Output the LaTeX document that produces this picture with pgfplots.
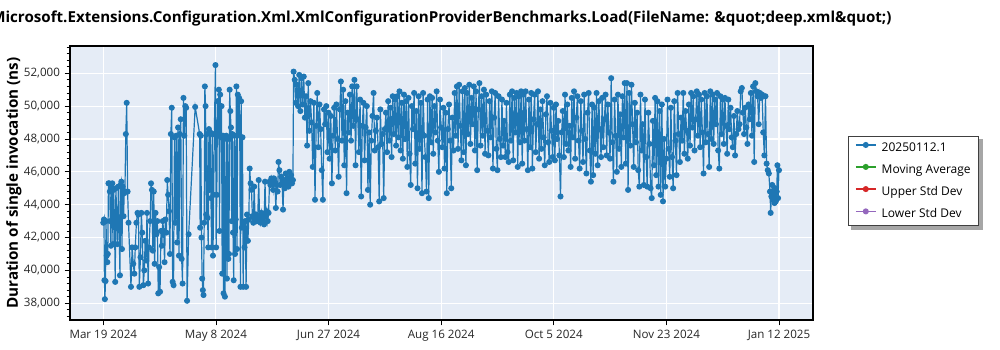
\documentclass[border=0pt]{standalone}
\usepackage{pgfplots}
\pgfplotsset{compat=1.18}
\usepackage{fontspec}
\setmainfont{Open Sans}
\usetikzlibrary{backgrounds}
\definecolor{bgc}{RGB}{229,236,246}
\definecolor{c1}{RGB}{31,119,180}
\definecolor{c2}{RGB}{44,160,44}
\definecolor{c3}{RGB}{214,39,40}
\definecolor{c4}{RGB}{148,103,189}
\begin{document}
\begin{tikzpicture}
\begin{axis}[
  at={(0pt,0pt)}, anchor=south west,
  scale only axis, width=557.25pt, height=205.5pt,
  xmin=-14.78, xmax=315.1, ymin=36980, ymax=53660,
  axis background/.style={fill=bgc},
  axis line style={black, line width=0.8pt},
  xtick={0,50,100,150,200,250,300},
  xticklabels={Mar 19 2024, May 8 2024, Jun 27 2024, Aug 16 2024, Oct 5 2024, Nov 23 2024, Jan 12 2025},
  ytick={38000,40000,42000,44000,46000,48000,50000,52000},
  minor ytick={37200,37600,...,53600},
  tick align=outside, xtick pos=lower, ytick pos=left,
  major tick length=4pt, minor tick length=2.5pt,
  tick style={black, line width=0.6pt},
  grid=major, major grid style={white, line width=0.8pt},
  scaled y ticks=false,
  yticklabel style={/pgf/number format/.cd, fixed, 1000 sep={,}},
  /pgf/number format/assume math mode=true,
  ticklabel style={font=\fontsize{8.7}{10}\selectfont, text=black!85},
  ylabel={Duration of single invocation (ns)},
  ylabel style={font=\bfseries\fontsize{11.4}{13}\selectfont, at={(axis description cs:-0.0754,0.5)}, anchor=center},
  legend cell align=left,
  legend image code/.code={\draw[mark repeat=2, mark phase=2, #1] plot coordinates {(0pt,2.2pt) (7.5pt,2.2pt) (15pt,2.2pt)};},
  legend style={name=leg, at={(axis description cs:1.0471,0.6715)}, anchor=north west,
    draw=black!75, line width=0.8pt, fill=white,
    font=\fontsize{9}{11}\selectfont, row sep=6.4pt, inner xsep=5pt, inner ysep=3.5pt,
    nodes={inner sep=1pt},
    /tikz/every odd column/.append style={column sep=3pt}},
]
\addplot[color=c1, line width=0.9pt, mark=*, mark size=1.8pt, mark options={fill=c1, draw=c1}] coordinates {
(0,42900) (0.3,43100) (0.5,39400) (0.7,38250) (1.0,39350) (1.2,43000) (1.5,40900) (1.8,40500) (2.0,41000) (2.3,45300)
(2.6,45300) (2.9,44800) (3.1,43000) (3.4,41500) (3.7,45000) (4.0,45300) (4.3,41600) (4.6,44900) (5.0,42800) (5.3,39300)
(5.6,45000) (6.0,43000) (6.3,41600) (6.7,45100) (7.0,42900) (7.4,39700) (7.7,45200) (8.0,45400) (8.3,41300) (8.6,45100)
(9.0,43300) (9.3,44700) (9.6,44800) (10.0,48300) (10.4,50200) (10.8,44800) (11.2,42900)
(12.3,39000) (12.8,41400) (13.3,40400) (13.8,39800) (14.2,41400) (14.7,42900) (15.2,43500) (15.6,43400) (16.0,39000) (16.5,40800)
(16.9,43500) (17.3,42300) (17.8,39100) (18.2,40000) (18.6,41800) (19.0,40600) (19.4,43500) (19.9,39200) (20.3,41400) (20.8,43000)
(21.2,45300) (21.6,44900) (22.0,41200) (22.4,44800) (22.8,40400) (23.2,43500) (23.6,42200) (24.0,43000) (24.4,38600) (24.8,40200)
(25.2,38700) (25.6,42400) (26.0,41500) (26.4,43000) (26.8,42400) (27.2,40500) (27.6,43100) (28.0,42300) (28.4,45500) (28.8,44600)
(29.2,43600) (29.6,41000) (30.0,48300) (30.4,49900) (30.8,39300) (31.2,39100) (31.6,48100) (32.0,42900) (32.4,48200) (32.8,41700)
(33.2,48700) (33.6,40900) (34.0,48300) (34.4,49200) (34.8,40700) (35.2,39200) (35.6,50500) (36.0,48200) (36.4,50000) (36.8,49900)
(37.2,38150) (37.9,42200) (40.8,49950)
(42.8,48300) (43.0,42600) (43.3,48200) (43.6,42000) (43.9,39500) (44.2,38800) (44.5,38500) (44.8,42900) (45.1,51200) (45.4,50000)
(45.7,43400) (46.0,48300) (46.3,43200) (46.6,41400) (46.9,48600) (47.2,44900) (47.5,48400) (47.8,44400) (48.1,41400) (48.4,48300)
(48.7,40900) (49.0,44600) (49.3,48300) (49.8,52500) (50.1,41400) (50.4,44600) (50.7,50300) (51.0,48300) (51.3,51000) (51.6,42400)
(51.9,50700) (52.2,48100) (52.5,50000) (52.8,39800) (53.1,48200) (53.4,38600) (53.7,48000) (54.0,38400) (54.3,41800) (54.6,48200)
(54.9,39500) (55.2,48000) (55.5,40700) (55.8,41000) (56.1,51000) (56.4,49700) (56.7,48700) (57.0,43000) (57.3,48300) (57.6,42300)
(57.9,39400) (58.2,48200) (58.5,41000) (58.8,43100) (59.1,51200) (59.4,41300) (59.7,50700) (60.0,48300) (60.3,50500) (60.6,48200)
(60.9,39000) (61.2,50300) (61.5,42600) (61.8,48100) (62.1,39000) (62.4,42900) (62.7,41400)
(63.0,43000) (63.4,39000) (63.8,43400) (64.2,41800) (64.6,43100) (65.0,46200) (65.4,45300) (65.8,44900) (66.2,43300) (66.6,42900)
(67.0,45100) (67.4,43100) (67.8,43400) (68.2,43000) (68.6,43300) (69.0,45500) (69.4,43200) (69.8,42900) (70.2,43500) (70.6,43100)
(71.0,43400) (71.4,42800) (71.8,45400) (72.2,43300) (72.6,43600) (73.0,43000) (73.4,43500) (73.8,45400) (74.2,45200) (74.6,45600)
(75.0,45300) (75.4,44900) (75.8,45600) (76.2,45400) (76.6,43800) (77.0,45200) (77.4,44800) (77.8,46600) (78.2,46100) (78.6,45200)
(79.0,45700) (79.4,45300) (79.8,43700) (80.2,45500) (80.6,45000) (81.0,45900) (81.4,45300) (81.8,45600) (82.2,45100) (82.6,46000)
(83.0,45400) (83.4,45800) (83.8,45300) (84.2,45500)
(84.5,52100) (85.0,51600) (85.5,50200) (86.0,51300) (86.5,50000) (87.0,51900) (87.5,49700) (88.0,51700) (88.5,50100) (89.0,51800)
(89.5,49300) (90.0,50600) (90.5,47600) (91.0,51400) (91.5,48500) (92.0,50300) (92.5,49000) (93.0,46300) (93.5,50200) (94.0,44300)
(94.5,48800) (95.0,50800) (95.5,47500) (96.0,50100) (96.5,48600) (97.0,46100) (97.5,44300) (98.0,49800) (98.5,48900) (99.0,50000)
(99.5,47200) (100.0,49600) (100.5,46800) (101.0,49400) (101.5,45300) (102.0,48200) (102.5,49900) (103.0,47300) (103.5,50100) (104.0,48000)
(104.5,45700) (105.0,49800) (105.5,51500) (106.0,47900) (106.5,51000) (107.0,46400) (107.5,50300) (108.0,44700) (108.5,49600) (109.0,48400)
(109.5,50700) (110.0,47900) (110.5,51200) (111.0,48800) (111.5,51600) (112.0,46400) (112.5,51200) (113.0,49200) (113.5,47200) (114.0,50400)
(114.5,44500) (115.0,48800) (115.5,50200) (116.0,46700) (116.5,48700) (117.0,50000) (117.5,44900) (118.0,48400) (118.5,44000) (119.0,47900)
(119.5,49400) (120.0,50800) (120.5,47300) (121.0,48500) (121.5,49300) (122.0,47500) (122.5,44200) (123.0,49800) (123.5,47700) (124.0,48300)
(124.5,44400) (125.0,48600) (125.5,49600) (126.0,47200) (126.5,50300) (127.0,47900) (127.5,49900) (128.0,46900) (128.5,50600) (129.0,48300)
(129.5,50400) (130.0,47600) (130.5,50600) (131.0,48100) (131.5,50900) (132.0,47300) (132.5,50200) (133.0,46800) (133.5,50700) (134.0,48000)
(134.5,50300) (135.0,46300) (135.5,50500) (136.0,47100) (136.5,45200) (137.0,50000) (137.5,48600) (138.0,50800) (138.5,46500) (139.0,49700)
(139.5,45000) (140.0,50600) (140.5,47400) (141.0,50200) (141.5,44700) (142.0,50800) (142.5,48200) (143.0,46900) (143.5,44800) (144.0,50400)
(144.5,44400) (145.0,50600) (145.5,47800) (146.0,50500) (146.5,47100) (147.0,50000) (147.5,48400) (148.0,50900) (148.5,47900) (149.0,46000)
(149.5,50400) (150.0,48700) (150.5,47500) (151.0,49900) (151.5,46200) (152.0,49600) (152.5,44700) (153.0,48600) (153.5,50100) (154.0,47900)
(154.5,45000) (155.0,49300) (155.5,47300) (156.0,50800) (156.5,48200) (157.0,51200) (157.5,47400) (158.0,51300) (158.5,48800) (159.0,46700)
(159.5,50900) (160.0,47200) (160.5,51100) (161.0,46400) (161.5,50800) (162.0,48300) (162.5,51300) (163.0,47700) (163.5,50500) (164.0,48900)
(164.5,51200) (165.0,47300) (165.5,50900) (166.0,46100) (166.5,49800) (167.0,51400) (167.5,47600) (168.0,50600) (168.5,48200) (169.0,51000)
(169.5,47100) (170.0,50700) (170.5,48500) (171.0,47000) (171.5,50300) (172.0,48100) (172.5,50900) (173.0,46200) (173.5,49300) (174.0,50800)
(174.5,47400) (175.0,46100) (175.5,50600) (176.0,48000) (176.5,46900) (177.0,50400) (177.5,47600) (178.0,49100) (178.5,46900) (179.0,50200)
(179.5,47200) (180.0,46600) (180.5,50700) (181.0,47900) (181.5,50900) (182.0,46700) (182.5,50500) (183.0,48400) (183.5,50800) (184.0,46300)
(184.5,50600) (185.0,47800) (185.5,50900) (186.0,46500) (186.5,50700) (187.0,47900) (187.5,50900) (188.0,48600) (188.5,46100) (189.0,50400)
(189.5,47500) (190.0,50800) (190.5,46200) (191.0,49200) (191.5,50700) (192.0,47200) (192.5,48900) (193.0,50900) (193.5,46800) (194.0,49800)
(194.5,47400) (195.0,50300) (195.5,48100) (196.0,46400) (196.5,49500) (197.0,50600) (197.5,47800) (198.0,46600) (198.5,50200) (199.0,48500)
(199.5,46900) (200.0,49900) (200.5,46700) (201.0,50100) (201.5,48000) (202.0,49100) (202.5,47000) (203.0,44500) (203.5,48400) (204.0,49700)
(204.5,46900) (205.0,50700) (205.5,47700) (206.0,50100) (206.5,47300) (207.0,48800) (207.5,46300) (208.0,50500) (208.5,48100) (209.0,50900)
(209.5,46800) (210.0,49300) (210.5,50600) (211.0,47900) (211.5,46200) (212.0,50300) (212.5,48500) (213.0,46600) (213.5,50700) (214.0,48000)
(214.5,45900) (215.0,49600) (215.5,50800) (216.0,47300) (216.5,45400) (217.0,50100) (217.5,45800) (218.0,49900) (218.5,47100) (219.0,50800)
(219.5,46400) (220.0,50300) (220.5,48600) (221.0,46900) (221.5,50500) (222.0,47500) (222.5,49200) (223.0,50700) (223.5,47000) (224.0,50100)
(224.5,48400) (225.0,46800) (225.5,51700) (226.0,47800) (226.5,45400) (227.0,50400) (227.5,48200) (228.0,46000) (228.5,50700) (229.0,47400)
(229.5,49500) (230.0,46300) (230.5,50600) (231.0,48100) (231.5,51400) (232.0,46500) (232.5,51400) (233.0,44900) (233.5,50800) (234.0,47600)
(234.5,51300) (235.0,48900) (235.5,46300) (236.0,50200) (236.5,47800) (237.0,49600) (237.5,46100) (238.0,45100) (238.5,50700) (239.0,47300)
(239.5,48900) (240.0,45200) (240.5,50400) (241.0,46900) (241.5,45100) (242.0,49600) (242.5,47700) (243.0,45000) (243.5,44400) (244.0,49100)
(244.5,46400) (245.0,50500) (245.5,45800) (246.0,50300) (246.5,45100) (247.0,49700) (247.5,44600) (248.0,50100) (248.5,44200) (249.0,48000)
(249.5,45100) (250.0,46800) (250.5,50400) (251.0,47400) (251.5,45700) (252.0,49900) (252.5,46900) (253.0,45000) (253.5,50300) (254.0,47900)
(254.5,45800) (255.0,50800) (255.5,48300) (256.0,46600) (256.5,49300) (257.0,47900) (257.5,50800) (258.0,47100) (258.5,49700) (259.0,48500)
(259.5,46800) (260.0,50100) (260.5,47600) (261.0,50800) (261.5,48700) (262.0,50600) (262.5,47300) (263.0,49200) (263.5,50900) (264.0,48200)
(264.5,50700) (265.0,47500) (265.5,50400) (266.0,48400) (266.5,45900) (267.0,50800) (267.5,47800) (268.0,50600) (268.5,48300) (269.0,46300)
(269.5,50900) (270.0,48000) (270.5,50700) (271.0,47700) (271.5,50400) (272.0,48900) (272.5,50800) (273.0,47300) (273.5,46200) (274.0,50600)
(274.5,48300) (275.0,50400) (275.5,47700) (276.0,50500) (276.5,48800) (277.0,47100) (277.5,50400) (278.0,48600) (278.5,49900) (279.0,48100)
(279.5,47500) (280.0,49400) (280.5,47000) (281.0,48300) (281.5,49700) (282.0,48600) (282.5,48900) (283.0,50900) (283.5,51100) (284.0,49600)
(284.5,48300) (285.0,49900) (285.5,48700) (286.0,47700) (286.5,50100) (287.0,49200) (287.5,50800) (288.0,48200) (288.5,51200) (289.0,46600)
(289.5,51400) (290.0,50900) (290.5,50600) (291.0,48900) (291.5,50800) (292.0,50500) (292.5,50700) (293.0,48400) (293.5,47000) (294.0,50600)
(294.5,46500) (295.0,46100) (295.5,45900) (296.0,44800) (296.3,43500) (296.6,44500) (297.0,45200) (297.3,44300) (297.6,44700) (298.0,44100)
(298.3,45000) (298.6,44200) (299.0,44800) (299.3,46400) (299.6,44400) (300.0,46100)
};
\addlegendentry{20250112.1}
\addlegendimage{color=c2, line width=0.9pt, mark=*, mark size=1.8pt, mark options={fill=c2, draw=c2}}
\addlegendentry{Moving Average}
\addlegendimage{color=c3, line width=0.9pt, mark=*, mark size=1.8pt, mark options={fill=c3, draw=c3}}
\addlegendentry{Upper Std Dev}
\addlegendimage{color=c4, line width=0.9pt, mark=*, mark size=1.8pt, mark options={fill=c4, draw=c4}}
\addlegendentry{Lower Std Dev}
\end{axis}
\begin{pgfonlayer}{background}
\fill[black!35] ([xshift=2.5pt,yshift=-2.5pt]leg.south west) rectangle ([xshift=2.5pt,yshift=-2.5pt]leg.north east);
\end{pgfonlayer}
\node[font=\bfseries\fontsize{11.35}{13}\selectfont] at (278.6pt,225.75pt) {Microsoft.Extensions.Configuration.Xml.XmlConfigurationProviderBenchmarks.Load(FileName: \&quot;deep.xml\&quot;)};
\pgfresetboundingbox
\path[use as bounding box] (-52.5pt,-22.5pt) rectangle (697.5pt,240pt);
\end{tikzpicture}
\end{document}
